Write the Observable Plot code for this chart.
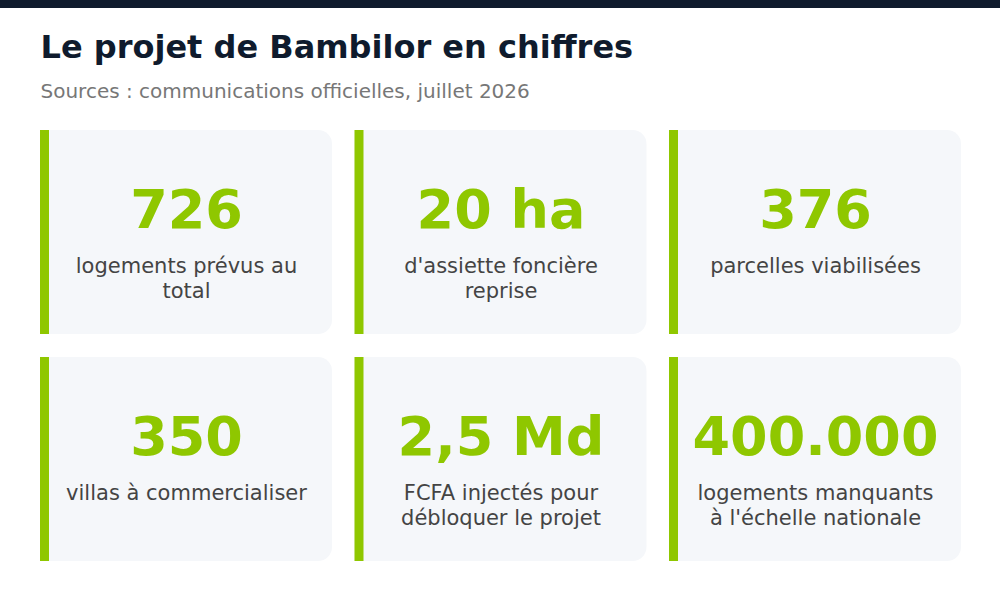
<!DOCTYPE html>
<html>
<head>
<meta charset="utf-8">
<script src="https://cdn.jsdelivr.net/npm/d3@7"></script>
<script src="https://cdn.jsdelivr.net/npm/@observablehq/plot@0.6"></script>
<style>
  html, body { margin: 0; padding: 0; background: #ffffff; }
  #chart svg { display: block; font-family: "DejaVu Sans", sans-serif; }
</style>
</head>
<body>
<div id="chart"></div>
<script>
const title = "Le projet de Bambilor en chiffres";
const subtitle = "Sources : communications officielles, juillet 2026";
const values = ["726", "20 ha", "376", "350", "2,5 Md", "400.000"];
const labels = [
  "logements prévus au\ntotal",
  "d'assiette foncière\nreprise",
  "parcelles viabilisées",
  "villas à commercialiser",
  "FCFA injectés pour\ndébloquer le projet",
  "logements manquants\nà l'échelle nationale"
];

const green = "#8fc700";
const cardBg = "#f5f7fa";
const navy = "#0f1b2d";

const nCols = 3, cardW = 292, cardH = 204, colStep = 314.5, rowStep = 227, gridLeft = 40, gridTop = 130, barW = 9;
const labelSize = 21, labelLH = 25 / 21;
const cards = values.map((v, i) => {
  const c = i % nCols, r = Math.floor(i / nCols);
  const x0 = gridLeft + c * colStep, y0 = gridTop + r * rowStep;
  return {value: v, label: labels[i], x0, x1: x0 + cardW, y0, y1: y0 + cardH, cx: x0 + cardW / 2};
});

const chart = Plot.plot({
  width: 1000,
  height: 600,
  margin: 0,
  x: {type: "identity", axis: null},
  y: {type: "identity", axis: null},
  style: {fontFamily: "DejaVu Sans, sans-serif", background: "#ffffff"},
  marks: [
    Plot.rect([0], {x1: 0, x2: 1000, y1: 0, y2: 8, fill: navy}),
    Plot.text([title], {x: 40, y: 57, text: d => d, textAnchor: "start", lineAnchor: "bottom", fontSize: 32, fontWeight: "bold", fill: navy}),
    Plot.text([subtitle], {x: 40, y: 97, text: d => d, textAnchor: "start", lineAnchor: "bottom", fontSize: 20, fill: "#777777"}),
    Plot.rect(cards, {x1: "x0", x2: "x1", y1: "y0", y2: "y1", fill: cardBg, rx: 14}),
    Plot.rect(cards, {x1: "x0", x2: d => d.x0 + 30, y1: "y0", y2: "y1", fill: cardBg}),
    Plot.rect(cards, {x1: "x0", x2: d => d.x0 + barW, y1: "y0", y2: "y1", fill: green}),
    Plot.text(cards, {x: "cx", y: d => d.y0 + 97.5, text: "value", lineAnchor: "bottom", fontSize: 54, fontWeight: "bold", fill: green}),
    Plot.text(cards, {x: "cx", y: d => d.y0 + 142.5 - 0.71 * labelLH * labelSize, text: "label", lineAnchor: "top", lineHeight: labelLH, fontSize: labelSize, fill: "#444444"})
  ]
});
document.getElementById("chart").appendChild(chart);
</script>
</body>
</html>
